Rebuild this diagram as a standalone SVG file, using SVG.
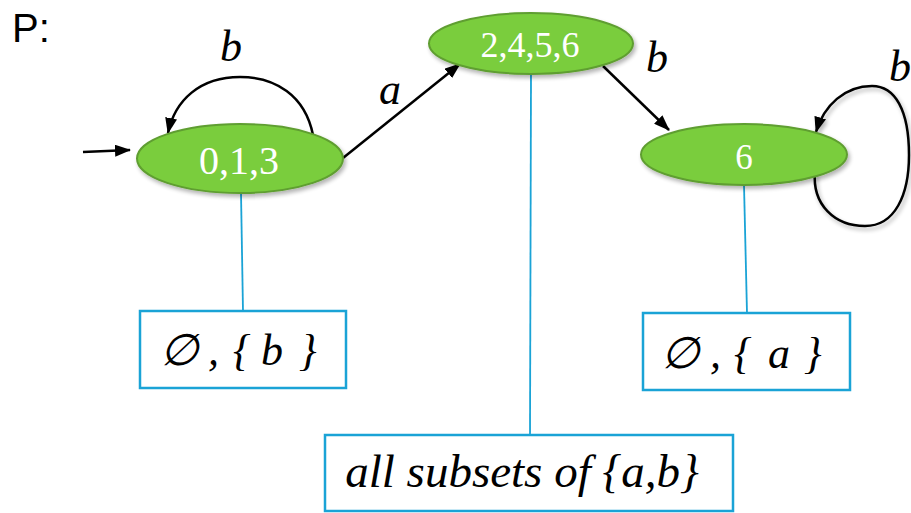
<svg xmlns="http://www.w3.org/2000/svg" width="911" height="513" viewBox="0 0 911 513">
<defs>
<marker id="arr" viewBox="0 0 16 12" refX="15" refY="6" markerWidth="16" markerHeight="12" markerUnits="userSpaceOnUse" orient="auto">
<path d="M0,0 L16,6 L0,12 z" fill="#000"/>
</marker>
<filter id="sh" x="-20%" y="-20%" width="140%" height="140%">
<feGaussianBlur in="SourceAlpha" stdDeviation="2"/>
<feOffset dx="2" dy="3"/>
<feComponentTransfer><feFuncA type="linear" slope="0.3"/></feComponentTransfer>
<feMerge><feMergeNode/><feMergeNode in="SourceGraphic"/></feMerge>
</filter>
</defs>
<style>
.st{fill:#7acd3c;stroke:#5f9e30;stroke-width:2}
.sl{font-family:"Liberation Serif","Times New Roman",serif;fill:#fff;text-anchor:middle}
.lb{font-family:"Liberation Serif","Times New Roman",serif;font-style:italic;fill:#000;text-anchor:middle}
.bt{font-family:"Liberation Serif","Times New Roman",serif;font-style:italic;fill:#000;font-size:44px}
.ed{fill:none;stroke:#000;stroke-width:2.5}
.bl{fill:none;stroke:#1aa3d6;stroke-width:1.8}
.bx{fill:#fff;stroke:#1aa3d6;stroke-width:2.5}
</style>
<text x="12" y="42" font-family="Liberation Sans, Arial, sans-serif" font-size="40" fill="#000">P:</text>
<g id="annotations">
<line class="bl" x1="241" y1="193" x2="243" y2="311"/>
<line class="bl" x1="531" y1="74" x2="530" y2="435"/>
<line class="bl" x1="744" y1="185" x2="747" y2="313"/>
</g>
<g id="connectors">
<line class="ed" x1="83" y1="152" x2="130" y2="150" marker-end="url(#arr)"/>
<path class="ed" d="M313,135 C305,95 275,77 240,77 C200,77 175,100 168,133" marker-end="url(#arr)"/>
<line class="ed" x1="343" y1="158" x2="460" y2="64" marker-end="url(#arr)"/>
<line class="ed" x1="603" y1="66" x2="669" y2="130" marker-end="url(#arr)"/>
<path class="ed" filter="url(#sh)" d="M815,172 C812,205 835,226 865,226 C895,226 909,195 909,155 C909,110 895,86 872,86 C845,86 824,105 816,132" marker-end="url(#arr)"/>
<text class="lb" x="231" y="61" font-size="44">b</text>
<text class="lb" x="390" y="104" font-size="44">a</text>
<text class="lb" x="657" y="72" font-size="44">b</text>
<text class="lb" x="900" y="81" font-size="44">b</text>
</g>
<g id="n013">
<ellipse class="st" cx="240" cy="158.5" rx="103" ry="34.5" filter="url(#sh)"/>
<text class="sl" x="239" y="174" font-size="40">0,1,3</text>
</g>
<g id="n2456">
<ellipse class="st" cx="531" cy="43.5" rx="102" ry="30.5" filter="url(#sh)"/>
<text class="sl" x="530" y="57" font-size="36">2,4,5,6</text>
</g>
<g id="n6">
<ellipse class="st" cx="744" cy="154.5" rx="103" ry="30.5" filter="url(#sh)"/>
<text class="sl" x="744" y="169" font-size="35">6</text>
</g>
<g id="box1">
<rect class="bx" x="140" y="311" width="206" height="77"/>
<text class="bt" y="365"><tspan x="160">∅</tspan><tspan x="208">,</tspan><tspan x="233">{</tspan><tspan x="261">b</tspan><tspan x="299">}</tspan></text>
</g>
<g id="box2">
<rect class="bx" x="643" y="313" width="207" height="77"/>
<text class="bt" y="368"><tspan x="661">∅</tspan><tspan x="710">,</tspan><tspan x="734">{</tspan><tspan x="768">a</tspan><tspan x="804">}</tspan></text>
</g>
<g id="box3">
<rect class="bx" x="325" y="435" width="408" height="76"/>
<text class="lb" x="522" y="487" font-size="47">all subsets of {a,b}</text>
</g>
</svg>
